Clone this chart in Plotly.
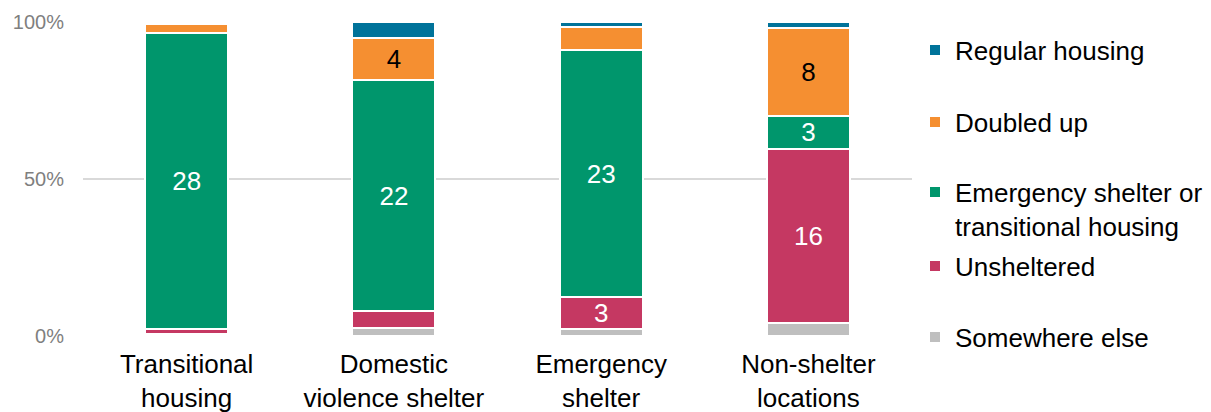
import plotly.graph_objects as go

# Where people stayed, by type of prior location (weighted counts)
categories = [
    "Transitional<br>housing",
    "Domestic<br>violence shelter",
    "Emergency<br>shelter",
    "Non-shelter<br>locations",
]
somewhere_else = [0.15, 0.72, 0.65, 1.15]
unsheltered = [0.52, 1.66, 3, 16]
emergency_or_transitional = [28, 22, 23, 3]
doubled_up = [0.85, 4, 2.15, 8]
regular_housing = [0.2, 1.54, 0.5, 0.57]

y_tick_values = [0, 50, 100]
y_tick_labels = ["0%", "50%", "100%"]

series = [
    ("Somewhere else", somewhere_else, "#BFBFBF", "white"),
    ("Unsheltered", unsheltered, "#C53862", "white"),
    ("Emergency shelter or<br>transitional housing", emergency_or_transitional, "#00966C", "white"),
    ("Doubled up", doubled_up, "#F58F31", "black"),
    ("Regular housing", regular_housing, "#00739A", "white"),
]

# legend item centres (pixels from top of the 412px-tall canvas)
legend_centres = {
    "Regular housing": 50,
    "Doubled up": 122,
    "Emergency shelter or<br>transitional housing": 209,
    "Unsheltered": 266,
    "Somewhere else": 337,
}

FONT = "Liberation Sans, Arial, sans-serif"
H = 412

fig = go.Figure()
layout_legends = {}
for i, (name, values, color, text_color) in enumerate(series):
    legend_id = "legend" if i == 0 else f"legend{i + 1}"
    labels = [f"{v:.0f}" if v >= 2.5 else "" for v in values]
    fig.add_trace(
        go.Bar(
            x=categories,
            y=values,
            name=name,
            marker=dict(color=color, line=dict(color="white", width=2)),
            text=labels,
            textposition="inside",
            insidetextanchor="middle",
            textangle=0,
            textfont=dict(family=FONT, size=26, color=text_color),
            legend=legend_id,
            hoverinfo="skip",
        )
    )
    layout_legends[legend_id] = dict(
        xref="container",
        yref="container",
        x=915 / 1211,
        y=1 - legend_centres[name] / H,
        xanchor="left",
        yanchor="middle",
        valign="top",
        bgcolor="rgba(0,0,0,0)",
        borderwidth=0,
        font=dict(family=FONT, size=26, color="black"),
    )

fig.update_layout(
    width=1211,
    height=412,
    barmode="stack",
    barnorm="percent",
    bargap=0.6,
    showlegend=True,
    plot_bgcolor="white",
    paper_bgcolor="white",
    margin=dict(l=83, r=299, t=22, b=76, autoexpand=False),
    font=dict(family=FONT, size=26, color="black"),
    uniformtext=dict(minsize=26, mode="show"),
    **layout_legends,
)
fig.update_xaxes(
    automargin=False,
    showline=False,
    showgrid=False,
    ticks="",
    tickfont=dict(family=FONT, size=26, color="black"),
    ticklabelstandoff=10,
)
fig.update_yaxes(
    automargin=False,
    range=[0, 100],
    tickmode="array",
    tickvals=y_tick_values,
    ticktext=y_tick_labels,
    showgrid=True,
    gridcolor="#D9D9D9",
    gridwidth=1.5,
    zeroline=False,
    showline=False,
    ticks="",
    tickfont=dict(family=FONT, size=20, color="#7F7F7F"),
    ticklabelstandoff=18,
)

fig.write_html("out.html")
